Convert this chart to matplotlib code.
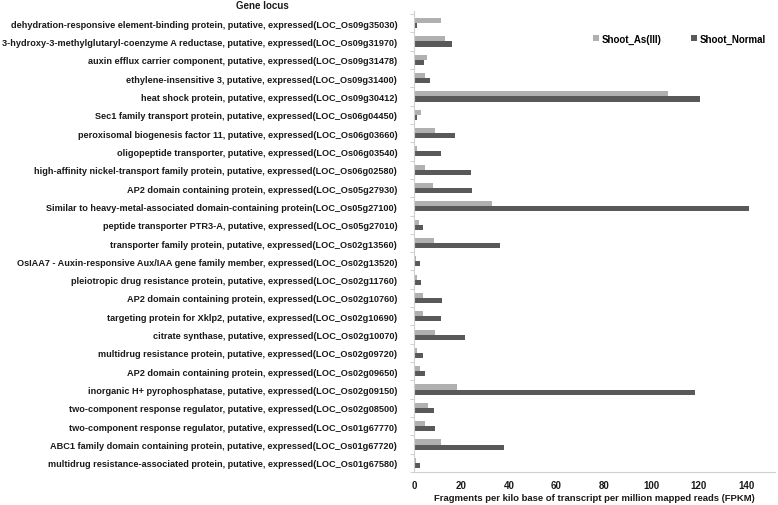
import numpy as np
import matplotlib
matplotlib.use("Agg")
import matplotlib.pyplot as plt

plt.rcParams['font.family'] = ['Liberation Sans', 'DejaVu Sans']

# gene loci, top to bottom as in the figure
genes = [
    "dehydration-responsive element-binding protein, putative, expressed(LOC_Os09g35030)",
    "3-hydroxy-3-methylglutaryl-coenzyme A reductase, putative, expressed(LOC_Os09g31970)",
    "auxin efflux carrier component, putative, expressed(LOC_Os09g31478)",
    "ethylene-insensitive 3, putative, expressed(LOC_Os09g31400)",
    "heat shock protein, putative, expressed(LOC_Os09g30412)",
    "Sec1 family transport protein, putative, expressed(LOC_Os06g04450)",
    "peroxisomal biogenesis factor 11, putative, expressed(LOC_Os06g03660)",
    "oligopeptide transporter, putative, expressed(LOC_Os06g03540)",
    "high-affinity nickel-transport family protein, putative, expressed(LOC_Os06g02580)",
    "AP2 domain containing protein, expressed(LOC_Os05g27930)",
    "Similar to heavy-metal-associated domain-containing protein(LOC_Os05g27100)",
    "peptide transporter PTR3-A, putative, expressed(LOC_Os05g27010)",
    "transporter family protein, putative, expressed(LOC_Os02g13560)",
    "OsIAA7 - Auxin-responsive Aux/IAA gene family member, expressed(LOC_Os02g13520)",
    "pleiotropic drug resistance protein, putative, expressed(LOC_Os02g11760)",
    "AP2 domain containing protein, expressed(LOC_Os02g10760)",
    "targeting protein for Xklp2, putative, expressed(LOC_Os02g10690)",
    "citrate synthase, putative, expressed(LOC_Os02g10070)",
    "multidrug resistance protein, putative, expressed(LOC_Os02g09720)",
    "AP2 domain containing protein, expressed(LOC_Os02g09650)",
    "inorganic H+ pyrophosphatase, putative, expressed(LOC_Os02g09150)",
    "two-component response regulator, putative, expressed(LOC_Os02g08500)",
    "two-component response regulator, putative, expressed(LOC_Os01g67770)",
    "ABC1 family domain containing protein, putative, expressed(LOC_Os01g67720)",
    "multidrug resistance-associated protein, putative, expressed(LOC_Os01g67580)",
]

shoot_as = [11.6, 12.9, 5.5, 4.8, 107.0, 3.2, 9.0, 1.4, 4.6, 8.1, 32.8, 2.0, 8.4,
            1.0, 1.1, 3.8, 3.9, 8.8, 1.5, 2.5, 18.0, 5.9, 4.6, 11.4, 1.0]
shoot_normal = [1.4, 15.9, 4.3, 6.6, 120.6, 1.5, 17.5, 11.5, 23.9, 24.4, 141.0, 3.9, 36.2,
                2.7, 2.8, 11.9, 11.4, 21.7, 3.8, 4.8, 118.5, 8.6, 9.0, 38.0, 2.5]

xticks = [0, 20, 40, 60, 80, 100, 120, 140]

fig = plt.figure(figsize=(7.78, 5.06), dpi=100)
ax = fig.add_axes([0.532, 0.065, 0.464, 0.911])

y = np.arange(len(genes))
h = 0.28
ax.barh(y - h / 2, shoot_as, height=h, color='#b0b0b0', label='Shoot_As(III)')
ax.barh(y + h / 2, shoot_normal, height=h, color='#595959', label='Shoot_Normal')

ax.set_ylim(len(genes) - 1 + 0.4, -0.65)
ax.set_xlim(0, 152)

ax.set_yticks(y)
ax.set_yticklabels(genes, fontsize=6.6, fontweight='bold', color='#1a1a1a')
ax.set_yticks(np.arange(len(genes) + 1) - 0.5, minor=True)
ax.tick_params(axis='y', which='major', length=0, pad=12)
ax.tick_params(axis='y', which='minor', length=3, color='#c8c8c8', direction='out')

ax.set_xticks(xticks)
ax.set_xticklabels([str(t) for t in xticks], fontsize=7, fontweight='bold', color='#1a1a1a')
ax.tick_params(axis='x', length=0, pad=6)
ax.set_xlabel('Fragments per kilo base of transcript per million mapped reads (FPKM)',
              fontsize=6.8, fontweight='bold', color='#1a1a1a', labelpad=2)

for side in ['top', 'right']:
    ax.spines[side].set_visible(False)
ax.spines['left'].set_color('#d0d0d0')
ax.spines['bottom'].set_color('#d0d0d0')

fig.text(0.337, 0.988, 'Gene locus', fontsize=7, fontweight='bold', color='#1a1a1a',
         ha='center', va='center')

leg = ax.legend(loc='upper right', bbox_to_anchor=(1.0, 0.97), ncol=2, frameon=False,
                prop={'weight': 'bold', 'size': 7},
                handlelength=0.6, handleheight=0.6, handletextpad=0.3, columnspacing=3.0)

fig.savefig('out.png', dpi=100)
